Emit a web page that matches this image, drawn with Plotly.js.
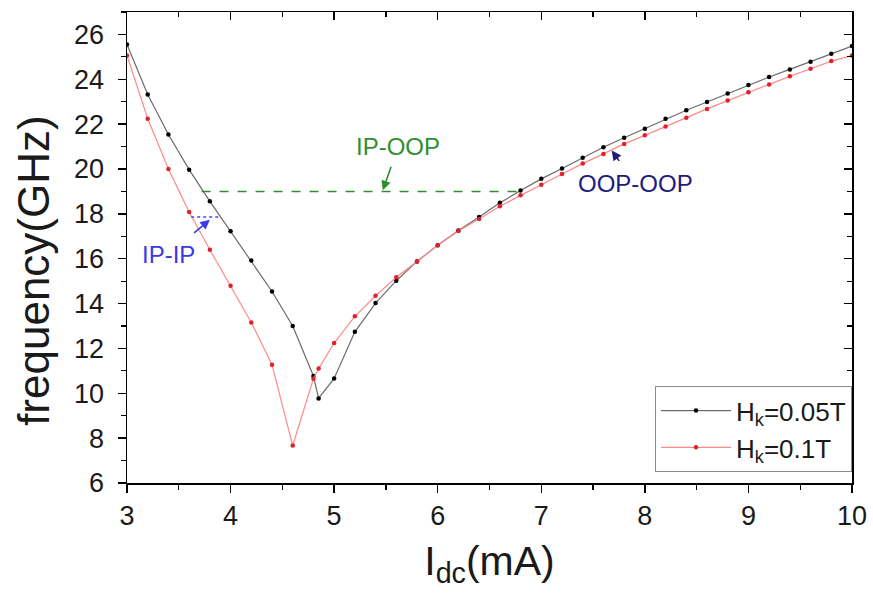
<!DOCTYPE html>
<html>
<head>
<meta charset="utf-8">
<script src="https://cdn.plot.ly/plotly-3.0.1.min.js"></script>
<style>html,body{margin:0;padding:0;background:#fff;}#chart{width:873px;height:601px;}</style>
</head>
<body>
<div id="chart"></div>
<script>
// Drive current (mA)
const idc = [3.0, 3.2, 3.4, 3.6, 3.8, 4.0, 4.2, 4.4, 4.6, 4.8, 4.85, 5.0, 5.2, 5.4, 5.6, 5.8, 6.0, 6.2, 6.4, 6.6, 6.8, 7.0, 7.2, 7.4, 7.6, 7.8, 8.0, 8.2, 8.4, 8.6, 8.8, 9.0, 9.2, 9.4, 9.6, 9.8, 10.0];
// Frequency (GHz), Hk = 0.05 T
const freqHk005 = [25.55, 23.32, 21.54, 19.97, 18.56, 17.22, 15.92, 14.54, 13.0, 10.77, 9.77, 10.66, 12.74, 14.02, 15.02, 15.88, 16.6, 17.26, 17.86, 18.49, 19.04, 19.56, 20.02, 20.5, 20.97, 21.39, 21.8, 22.24, 22.62, 22.99, 23.37, 23.74, 24.1, 24.44, 24.78, 25.14, 25.48];
// Frequency (GHz), Hk = 0.1 T
const freqHk01 = [25.06, 22.24, 20.0, 18.08, 16.4, 14.8, 13.16, 11.27, 7.67, 10.65, 11.1, 12.24, 13.43, 14.35, 15.17, 15.88, 16.6, 17.24, 17.77, 18.34, 18.83, 19.3, 19.78, 20.24, 20.67, 21.12, 21.5, 21.9, 22.29, 22.68, 23.05, 23.42, 23.77, 24.13, 24.47, 24.81, 25.06];
const seriesNames = ['H<sub>k</sub>=0.05T', 'H<sub>k</sub>=0.1T'];

// Guide lines (data units)
const ipOopX = [3.72, 6.79];
const ipOopY = [19.0, 19.0];
const ipIpX = [3.62, 3.90];
const ipIpY = [17.86, 17.86];

// Annotation labels (text centre) and arrow tips (data units)
const labelText = ['IP-OOP', 'IP-IP', 'OOP-OOP'];
const labelX = [5.62, 3.40, 7.91];
const labelY = [21.02, 16.2, 19.37];
const arrowTipX = [5.47, 3.80, 7.68];
const arrowTipY = [19.05, 17.74, 20.82];
const arrowGap = [6, 10, 9];
const labelColors = ['#2f8f2f', '#3a3ae6', '#1c1c7e'];

const xTitle = 'I<sub>dc</sub>(mA)';
const yTitle = 'frequency(GHz)';
const xTicks = [3, 4, 5, 6, 7, 8, 9, 10];
const yTicks = [6, 8, 10, 12, 14, 16, 18, 20, 22, 24, 26];
const xRange = [3, 10];
const yRange = [6, 27];

const FONT = 'Liberation Sans, Arial, Helvetica, sans-serif';

const traces = [
  {
    x: idc, y: freqHk005, name: seriesNames[0], mode: 'lines+markers',
    line: {color: '#6b6b6b', width: 1.2},
    marker: {color: '#000000', size: 4.5}
  },
  {
    x: idc, y: freqHk01, name: seriesNames[1], mode: 'lines+markers',
    line: {color: '#ff8a8a', width: 1.2},
    marker: {color: '#e0202a', size: 4.5}
  },
  {
    x: ipOopX, y: ipOopY, mode: 'lines', showlegend: false, hoverinfo: 'skip',
    line: {color: '#2f8f2f', width: 1.4, dash: 'dash'}
  },
  {
    x: ipIpX, y: ipIpY, mode: 'lines', showlegend: false, hoverinfo: 'skip',
    line: {color: '#4a4ae6', width: 1.6, dash: 'dot'}
  },
  {
    x: [xRange[0]], y: [yRange[0]], xaxis: 'x2', yaxis: 'y2', mode: 'markers',
    marker: {opacity: 0}, showlegend: false, hoverinfo: 'skip'
  }
];

const annotations = [];
for (let i = 0; i < labelText.length; i++) {
  annotations.push({
    x: arrowTipX[i], y: arrowTipY[i], xref: 'x', yref: 'y',
    ax: labelX[i], ay: labelY[i], axref: 'x', ayref: 'y',
    text: labelText[i], font: {family: FONT, size: 24, color: labelColors[i]},
    showarrow: true, arrowhead: 2, arrowsize: 1.2, arrowwidth: 1.6,
    arrowcolor: labelColors[i], startstandoff: arrowGap[i]
  });
}
// y-axis title (placed slightly below the plot centre, as in the reference)
annotations.push({
  xref: 'paper', yref: 'paper', x: -0.13, y: 0.452, xanchor: 'center', yanchor: 'middle',
  text: yTitle, textangle: -90, showarrow: false,
  font: {family: FONT, size: 44, color: '#1a1a1a'}
});

const axisCommon = {
  showgrid: false, zeroline: false, showline: true, linecolor: '#000', linewidth: 1.5,
  tickcolor: '#000', tickwidth: 1.5, ticklen: 8
};

const layout = {
  width: 873, height: 601,
  margin: {l: 127, r: 21, t: 12, b: 118},
  paper_bgcolor: '#fff', plot_bgcolor: '#fff',
  font: {family: FONT, color: '#1a1a1a'},
  showlegend: true,
  legend: {
    x: 1, xanchor: 'right', y: 0.023, yanchor: 'bottom',
    bgcolor: '#fff', bordercolor: '#8a8a8a', borderwidth: 1,
    font: {family: FONT, size: 26, color: '#1a1a1a'},
    itemwidth: 70
  },
  xaxis: Object.assign({}, axisCommon, {
    range: xRange, tickvals: xTicks, ticks: 'outside',
    minor: {dtick: 0.5, ticks: 'outside', ticklen: 5, tickcolor: '#000', tickwidth: 1.2},
    tickfont: {family: FONT, size: 27, color: '#1a1a1a'},
    title: {text: xTitle, font: {family: FONT, size: 41, color: '#1a1a1a'}, standoff: 16}
  }),
  yaxis: Object.assign({}, axisCommon, {
    range: yRange, tickvals: yTicks, ticks: 'outside', ticklabelstandoff: 8,
    minor: {dtick: 1, ticks: 'outside', ticklen: 5, tickcolor: '#000', tickwidth: 1.2},
    tickfont: {family: FONT, size: 27, color: '#1a1a1a'}
  }),
  xaxis2: Object.assign({}, axisCommon, {
    overlaying: 'x', side: 'top', range: xRange, tickvals: xTicks, ticks: 'inside',
    minor: {dtick: 0.5, ticks: 'inside', ticklen: 5, tickcolor: '#000', tickwidth: 1.2},
    showticklabels: false
  }),
  yaxis2: Object.assign({}, axisCommon, {
    overlaying: 'y', side: 'right', range: yRange, tickvals: yTicks, ticks: 'inside',
    minor: {dtick: 1, ticks: 'inside', ticklen: 5, tickcolor: '#000', tickwidth: 1.2},
    showticklabels: false
  }),
  annotations: annotations
};

Plotly.newPlot('chart', traces, layout, {displayModeBar: false, staticPlot: true});
</script>
</body>
</html>
